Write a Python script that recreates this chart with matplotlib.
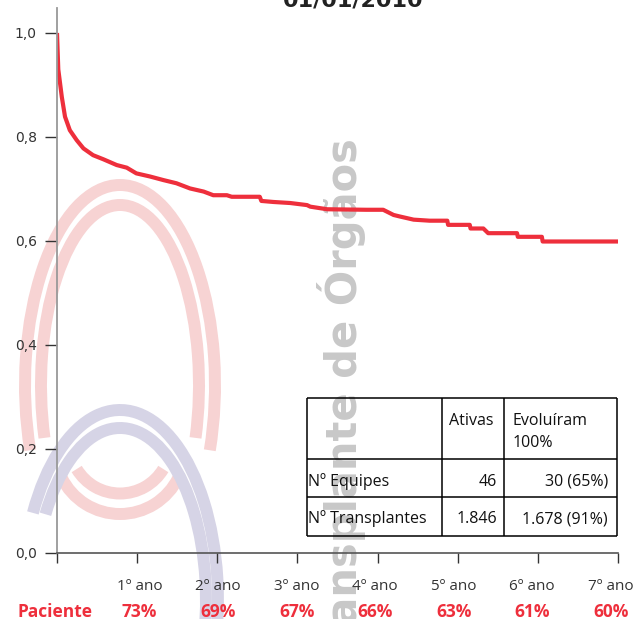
import matplotlib
matplotlib.use('Agg')
import matplotlib.pyplot as plt
from matplotlib.patches import Arc
from matplotlib.transforms import blended_transform_factory

# curva de sobrevida (anos, fracao)
anos = [0, 0.016, 0.06, 0.10, 0.16, 0.245, 0.33, 0.45, 0.58, 0.745, 0.87, 0.99,
        1.16, 1.33, 1.49, 1.66, 1.83, 1.95, 2.12, 2.18, 2.53, 2.55, 2.70, 2.91,
        3.12, 3.16, 3.37, 3.86, 4.07, 4.20, 4.28, 4.45, 4.65, 4.87, 4.88, 5.15,
        5.16, 5.32, 5.38, 5.74, 5.75, 6.05, 6.06, 7.0]
sobrevida = [1.0, 0.93, 0.877, 0.839, 0.813, 0.794, 0.778, 0.765, 0.757, 0.746, 0.741, 0.730,
             0.724, 0.717, 0.711, 0.701, 0.695, 0.688, 0.688, 0.685, 0.685, 0.677, 0.675, 0.673,
             0.669, 0.666, 0.661, 0.660, 0.660, 0.650, 0.647, 0.641, 0.639, 0.639, 0.631, 0.631,
             0.624, 0.624, 0.615, 0.615, 0.608, 0.608, 0.599, 0.599]

x_ticks = [0, 1, 2, 3, 4, 5, 6, 7]
ano_labels = ['1º ano', '2º ano', '3º ano', '4º ano', '5º ano', '6º ano', '7º ano']
paciente = ['73%', '69%', '67%', '66%', '63%', '61%', '60%']

y_ticks = [0.0, 0.2, 0.4, 0.6, 0.8, 1.0]
y_labels = ['0,0', '0,2', '0,4', '0,6', '0,8', '1,0']

tab_header = ['', 'Ativas', 'Evoluíram\n100%']
tab_rows = [['Nº Equipes', '46', '30 (65%)'],
            ['Nº Transplantes', '1.846', '1.678 (91%)']]

W, H = 635, 619
red = '#ee2f3c'
txt_font = 'Open Sans'

fig = plt.figure(figsize=(W / 100, H / 100), dpi=100)

# fundo: logo e marca d'agua (coordenadas em pixels, y para cima)
bg = fig.add_axes([0, 0, 1, 1], zorder=0)
bg.set_xlim(0, W)
bg.set_ylim(0, H)
bg.axis('off')

pink = '#f7d3d3'
lilac = '#d6d4e6'
lw_logo = 8.6
bg.add_patch(Arc((120, H - 385), 190, 400, theta1=-36, theta2=216, color=pink, lw=lw_logo))
bg.add_patch(Arc((120, H - 385), 158, 360, theta1=-35, theta2=215, color=pink, lw=lw_logo))
bg.add_patch(Arc((120, H - 443), 101, 101, theta1=211, theta2=329, color=pink, lw=lw_logo))
bg.add_patch(Arc((120, H - 449), 130, 130, theta1=206, theta2=334, color=pink, lw=lw_logo))
bg.add_patch(Arc((120, H - 600), 196, 380, theta1=-60, theta2=135, color=lilac, lw=lw_logo))
bg.add_patch(Arc((120, H - 600), 172, 344, theta1=-60, theta2=131, color=lilac, lw=lw_logo))

bg.text(357, H - 138, 'Transplante de Órgãos', rotation=90, rotation_mode='anchor',
        ha='right', va='baseline', fontsize=30, fontweight='bold', color='#c8c8c8',
        family='DejaVu Sans')

# grafico principal
ax = fig.add_axes([57 / W, (H - 553) / H, 561 / W, 545 / H], zorder=1)
ax.patch.set_alpha(0)
ax.plot(anos, sobrevida, color=red, lw=3, solid_joinstyle='round', solid_capstyle='butt')
ax.set_xlim(0, 7)
ax.set_ylim(0, 1.048)

for s in ['top', 'right']:
    ax.spines[s].set_visible(False)
ax.spines['left'].set_color('#999999')
ax.spines['left'].set_linewidth(1.3)
ax.spines['bottom'].set_color('#555555')
ax.spines['bottom'].set_linewidth(1.2)

ax.set_xticks(x_ticks)
ax.set_xticklabels([])
ax.set_yticks(y_ticks)
ax.set_yticklabels(y_labels, family='DejaVu Sans', fontsize=10, color='#333333')
ax.tick_params(axis='x', direction='out', length=7.2, width=1, color='#333333')
ax.tick_params(axis='y', direction='out', length=8.6, width=1, color='#333333', pad=6)

# rotulos dos anos e linha "Paciente" (colunas levemente mais estreitas que os ticks)
tr = blended_transform_factory(ax.transData, fig.transFigure)
col_pos = [1.03 + 0.98 * i for i in range(len(ano_labels))]
for xp, lab, p in zip(col_pos, ano_labels, paciente):
    ax.text(xp, (H - 590) / H, lab, transform=tr, ha='center', va='baseline',
            family=txt_font, fontsize=11, color='#333333', clip_on=False)
    ax.text(xp, (H - 617) / H, p, transform=tr, ha='center', va='baseline',
            family=txt_font, fontsize=12.5, fontweight='bold', color=red, clip_on=False)
fig.text(55 / W, (H - 617) / H, 'Paciente', ha='center', va='baseline', family=txt_font,
         fontsize=12.5, fontweight='bold', color=red)

# titulo (cortado no topo)
fig.text(353 / W, (H - 7) / H, '01/01/2010', ha='center', va='baseline', fontsize=16,
         fontweight='bold', color='#222222', family='DejaVu Sans')

# tabela
ov = fig.add_axes([0, 0, 1, 1], zorder=2)
ov.set_xlim(0, W)
ov.set_ylim(0, H)
ov.axis('off')
col_x = [307, 442, 504, 617]
row_y = [398, 459, 497, 536]
ov.hlines([H - y for y in row_y], col_x[0], col_x[-1], color='black', lw=1.1)
ov.vlines(col_x, H - row_y[-1], H - row_y[0], color='black', lw=1.1)

# ancoras de texto por coluna: (x, alinhamento) no cabecalho e nas linhas
head_anchor = [(308, 'left'), (449, 'left'), (513, 'left')]
row_anchor = [(308, 'left'), (497, 'right'), (608, 'right')]
head_base = 425
row_base = [486, 523]
for (x, ha), cell in zip(head_anchor, tab_header):
    for k, line in enumerate(cell.split('\n')):
        ov.text(x, H - head_base - 22 * k, line, ha=ha, va='baseline', family=txt_font,
                fontsize=11.5, color='#111111')
for r, row in enumerate(tab_rows):
    for (x, ha), cell in zip(row_anchor, row):
        ov.text(x, H - row_base[r], cell, ha=ha, va='baseline', family=txt_font,
                fontsize=11.5, color='#111111')

fig.savefig('out.png', dpi=100)
